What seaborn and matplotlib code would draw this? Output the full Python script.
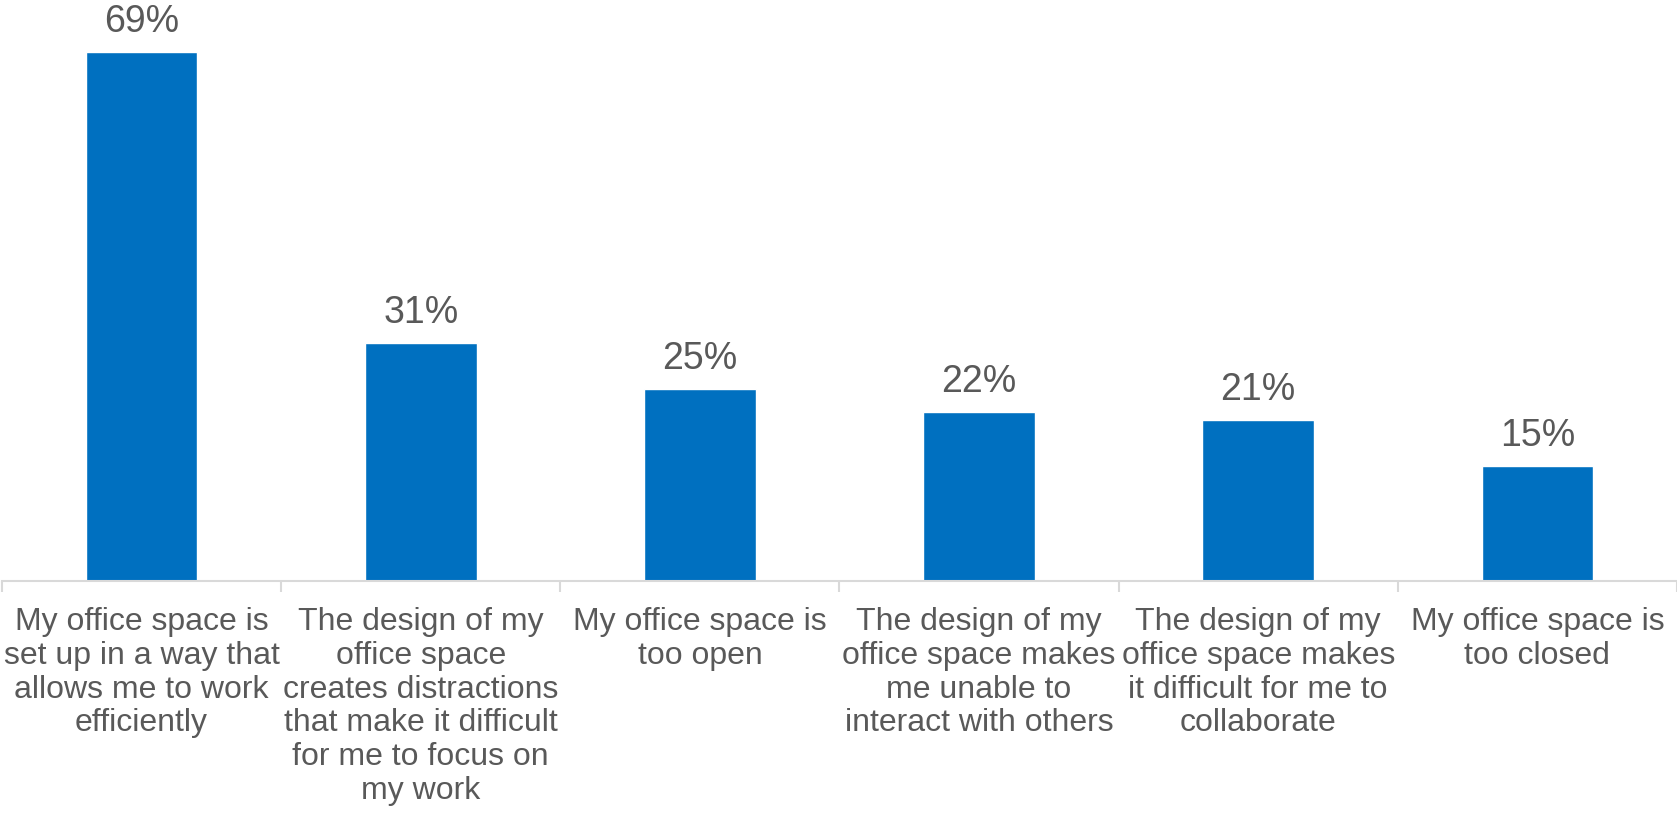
import matplotlib
matplotlib.use("Agg")
import matplotlib.pyplot as plt
import seaborn as sns
import pandas as pd

categories = [
    "My office space is\nset up in a way that\nallows me to work\nefficiently",
    "The design of my\noffice space\ncreates distractions\nthat make it difficult\nfor me to focus on\nmy work",
    "My office space is\ntoo open",
    "The design of my\noffice space makes\nme unable to\ninteract with others",
    "The design of my\noffice space makes\nit difficult for me to\ncollaborate",
    "My office space is\ntoo closed",
]
values = [69, 31, 25, 22, 21, 15]
value_labels = [f"{v}%" for v in values]

BAR_COLOR = "#0070C0"
TEXT_COLOR = "#595959"
AXIS_COLOR = "#D9D9D9"

sns.set_theme(style="white")
plt.rcParams["font.family"] = ["Liberation Sans", "DejaVu Sans"]

df = pd.DataFrame({"category": categories, "value": values})

DPI = 100
fig = plt.figure(figsize=(16.77, 8.15), dpi=DPI)
ax = fig.add_axes([2 / 1677, 234 / 815, 1675 / 1677, 575 / 815])

sns.barplot(data=df, x="category", y="value", color=BAR_COLOR, width=0.4,
            saturation=1, ax=ax)

ax.set_ylim(0, 75)
ax.set_xlim(-0.5, len(categories) - 0.5)
ax.set_xlabel("")
ax.set_ylabel("")
ax.set_yticks([])

for side in ("top", "right", "left"):
    ax.spines[side].set_visible(False)
ax.spines["bottom"].set_color(AXIS_COLOR)
ax.spines["bottom"].set_linewidth(1.5)

# category boundaries as small tick marks
ax.set_xticks([i - 0.5 for i in range(len(categories) + 1)], minor=True)
ax.tick_params(axis="x", which="minor", length=8, width=1.5, color=AXIS_COLOR,
               direction="out", bottom=True)
ax.tick_params(axis="x", which="major", length=0, pad=19, labelsize=23,
               labelcolor=TEXT_COLOR)
for lbl in ax.get_xticklabels():
    lbl.set_linespacing(1.16)
    lbl.set_horizontalalignment("center")

ax.bar_label(ax.containers[0], labels=value_labels, padding=9, fontsize=27,
             color=TEXT_COLOR)

fig.savefig("out.png", dpi=DPI, facecolor="white")
